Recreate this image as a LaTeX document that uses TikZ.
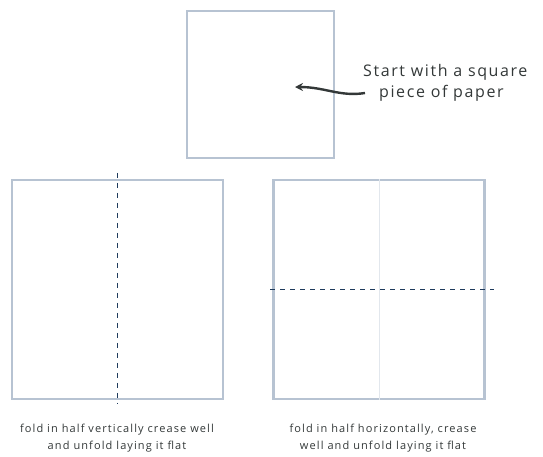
\documentclass[tikz,border=0pt]{standalone}
\usepackage{fontspec}
\usetikzlibrary{arrows.meta,positioning}
\newfontfamily\handfont{Open Sans}[LetterSpace=10]
\newfontfamily\notefont{Open Sans}[LetterSpace=10]
\definecolor{paperEdge}{HTML}{B7C3D2}
\definecolor{creaseBlue}{HTML}{1E3A5C}
\definecolor{inkGray}{HTML}{333838}

\begin{document}
\begin{tikzpicture}[x=1pt, y=-1pt,
    paper/.style={draw=paperEdge, line width=2.4pt, inner sep=0pt},
    crease/.style={draw=creaseBlue, line width=1.4pt, dash pattern=on 5pt off 5pt},
    note/.style={font=\notefont\fontsize{16}{18}\selectfont, text=inkGray, inner sep=0pt},
    caption/.style={font=\handfont\fontsize{11}{17}\selectfont, text=inkGray, align=center, inner sep=0pt},
    arr/.style={-{Stealth[length=8pt, width=8pt]}, line width=2.4pt, draw=inkGray}
  ]
    \useasboundingbox (0,0) rectangle (543,456);
    % the square sheet
    \node[paper, line width=1.4pt, minimum width=147pt, minimum height=147pt] (sq0) at (260.5,84.5) {};
    \node[note, anchor=west] (note1) at (363,72) {Start with a square};
    \node[note, anchor=west] (note2) at (379,93) {piece of paper};
    \coordinate (tip) at (295,87);
    \draw[arr] ([xshift=-14pt]note2.west) .. controls +(-25,4) and +(30,0) .. (tip);
    % vertical fold
    \node[paper, minimum width=211pt, minimum height=219pt] (sq1) at (117.5,289.5) {};
    \draw[crease] ([yshift=6pt]sq1.north) -- ([yshift=-4pt]sq1.south);
    \node[caption] (cap1) at (117,438) {fold in half vertically crease well\\and unfold laying it flat};
    % horizontal fold
    \node[paper, minimum width=211pt, minimum height=219pt] (sq2) at (379,289.5) {};
    \draw[paperEdge!40, line width=0.8pt] (sq2.north) -- (sq2.south);
    \draw[crease] ([xshift=-2pt]sq2.west) -- ([xshift=8pt]sq2.east);
    \node[caption] (cap2) at (383,438) {fold in half horizontally, crease\\well and unfold laying it flat};
  \end{tikzpicture}
\end{document}
